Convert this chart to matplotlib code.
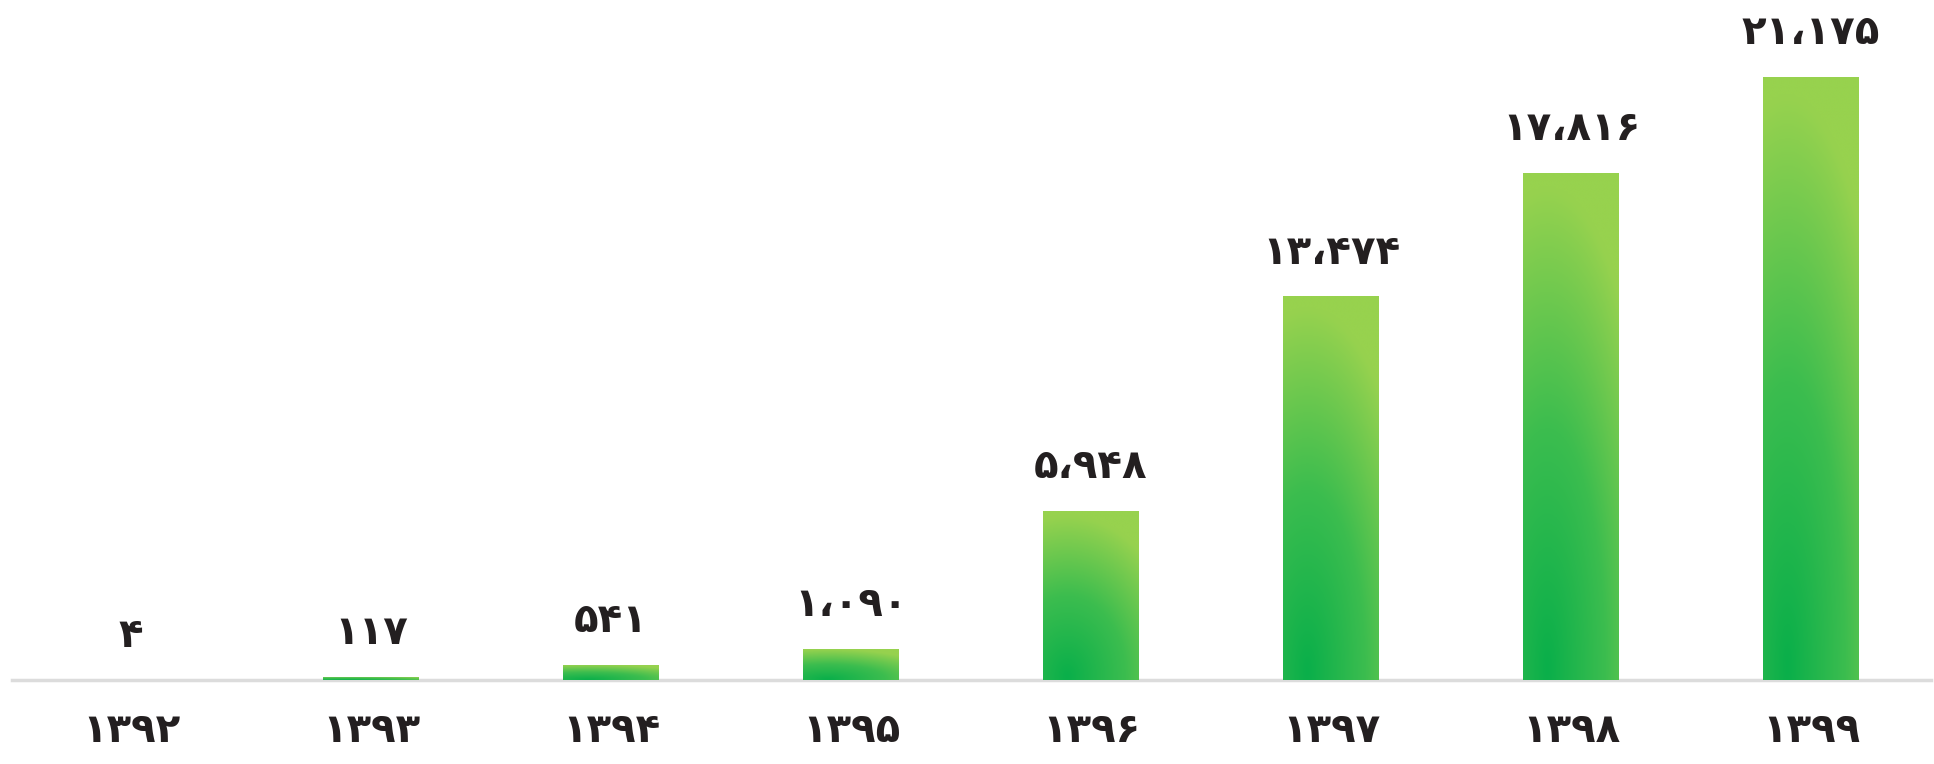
import numpy as np
import matplotlib.pyplot as plt
from matplotlib.colors import LinearSegmentedColormap
from matplotlib.patches import Rectangle

years = ['۱۳۹۲', '۱۳۹۳', '۱۳۹۴', '۱۳۹۵', '۱۳۹۶', '۱۳۹۷', '۱۳۹۸', '۱۳۹۹']
values = [4, 117, 541, 1090, 5948, 13474, 17816, 21175]
value_labels = ['۴', '۱۱۷', '۵۴۱', '۱،۰۹۰', '۵،۹۴۸', '۱۳،۴۷۴', '۱۷،۸۱۶', '۲۱،۱۷۵']

plt.rcParams['font.family'] = ['DejaVu Sans']

fig = plt.figure(figsize=(19.34, 7.64), dpi=100)
ax = fig.add_axes([0, 0, 1, 1])
ax.axis('off')

# green gradient: dark at bottom-left, light at the top
cmap = LinearSegmentedColormap.from_list('g', ['#0aaf4a', '#3cbd4f', '#97d24e'])
uu, vv = np.meshgrid(np.linspace(0, 1, 60), np.linspace(0, 1, 200))
grad = np.clip(np.sqrt(((uu - 0.25) / 1.3) ** 2 + (vv - 0.02) ** 2) / 0.95, 0, 1)

width = 0.4
x = np.arange(len(values))
bars = ax.bar(x, values, width=width, color='none', zorder=3)
for b in bars:
    x0, y0 = b.get_x(), b.get_y()
    w, h = b.get_width(), b.get_height()
    im = ax.imshow(grad, cmap=cmap, origin='lower', aspect='auto',
                   extent=[x0, x0 + w, y0, y0 + h], zorder=3,
                   interpolation='bicubic')
    clip = Rectangle((x0, y0), w, h, transform=ax.transData)
    im.set_clip_path(clip)

ax.set_xlim(-0.546, 7.5125)
ax.set_ylim(-2950, 23879)

ax.plot([-0.496, 7.5], [0, 0], color='#dcdcdc', lw=2.5, zorder=2)

for xi, v, lab in zip(x, values, value_labels):
    ax.annotate(lab, (xi, v), xytext=(0, 17), textcoords='offset points',
                ha='center', va='bottom', fontsize=29, fontweight='bold',
                color='#231f20')

for xi, yl in zip(x, years):
    ax.annotate(yl, (xi, 0), xytext=(0, -37), textcoords='offset points',
                ha='center', va='center', fontsize=29, fontweight='bold',
                color='#231f20')

fig.savefig('out.png', dpi=100, facecolor='white')
